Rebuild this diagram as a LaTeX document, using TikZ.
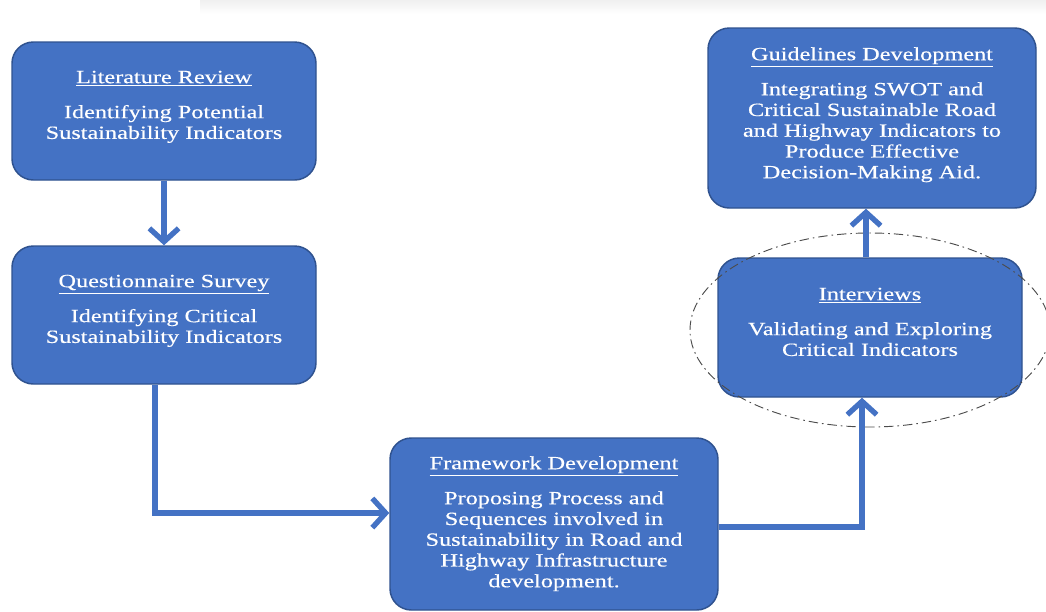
\documentclass[tikz,border=0pt]{standalone}
\usepackage{fontspec}
\setmainfont{Liberation Serif}
\newfontfamily\boxfont{Liberation Serif}[FakeStretch=1.3,FakeBold=0.4]
\usetikzlibrary{arrows.meta,calc,shapes.geometric}
\definecolor{boxblue}{HTML}{4472C4}
\definecolor{boxedge}{HTML}{2F528F}
\definecolor{arrowblue}{HTML}{4472C4}
\begin{document}
\begin{tikzpicture}[x=0.75pt,y=-0.75pt,
  stepbox/.style={rounded corners=16pt,fill=boxblue,draw=boxedge,line width=1.1pt,inner sep=0pt},
  boxtext/.style={text=white,align=center,inner sep=0pt,anchor=north,
    font=\boxfont\fontsize{14pt}{15.56pt}\selectfont},
  arr/.style={draw=arrowblue,line width=4pt,-{Straight Barb[length=10pt,width=22pt]}},
  ring/.style={draw=black!70,line width=0.7pt,dash pattern=on 7pt off 3pt on 1.2pt off 3pt}
]
\useasboundingbox (0,0) rectangle (1046,611);
\fill[top color=black!6,bottom color=white] (200,0) rectangle (1046,14);

% boxes
\node[stepbox,minimum width=228pt,minimum height=103.5pt] (lr) at (164,111) {};
\node[stepbox,minimum width=228pt,minimum height=103.5pt] (qs) at (164,315) {};
\node[stepbox,minimum width=246pt,minimum height=129pt] (fd) at (554,524) {};
\node[stepbox,minimum width=246pt,minimum height=135pt] (gd) at (872,118) {};
\node[stepbox,minimum width=228pt,minimum height=104.25pt] (int) at (870,327.5) {};

% texts
\node[boxtext] (lrt) at (164,70.5) {\underline{Literature Review}\\[10.7pt]Identifying Potential\\Sustainability Indicators};
\node[boxtext] (qst) at (164,274.5) {\underline{Questionnaire Survey}\\[10.7pt]Identifying Critical\\Sustainability Indicators};
\node[boxtext] (fdt) at (554,456) {\underline{Framework Development}\\[10.7pt]Proposing Process and\\Sequences involved in\\Sustainability in Road and\\Highway Infrastructure\\development.};
\node[boxtext] (gdt) at (872,47) {\underline{Guidelines Development}\\[10.7pt]Integrating SWOT and\\Critical Sustainable Road\\and Highway Indicators to\\Produce Effective\\Decision-Making Aid.};
\node[boxtext] (intt) at (870,287.5) {\underline{Interviews}\\[10.7pt]Validating and Exploring\\Critical Indicators};

% dash-dot ellipse
\node[ring,ellipse,minimum width=270pt,minimum height=145.5pt,inner sep=0pt] (oval) at (870,330) {};

% connectors
\draw[arr] (lr.south) -- (qs.north);
\draw[arr] ([xshift=-6.75pt]qs.south) |- ([yshift=8.25pt]fd.west);
\draw[arr] ([yshift=-2.25pt]fd.east) -| ([xshift=-6pt]int.south);
\draw[arr] ([xshift=-3pt]int.north) -- ([xshift=-3pt]int.north |- gd.south);
\end{tikzpicture}
\end{document}
